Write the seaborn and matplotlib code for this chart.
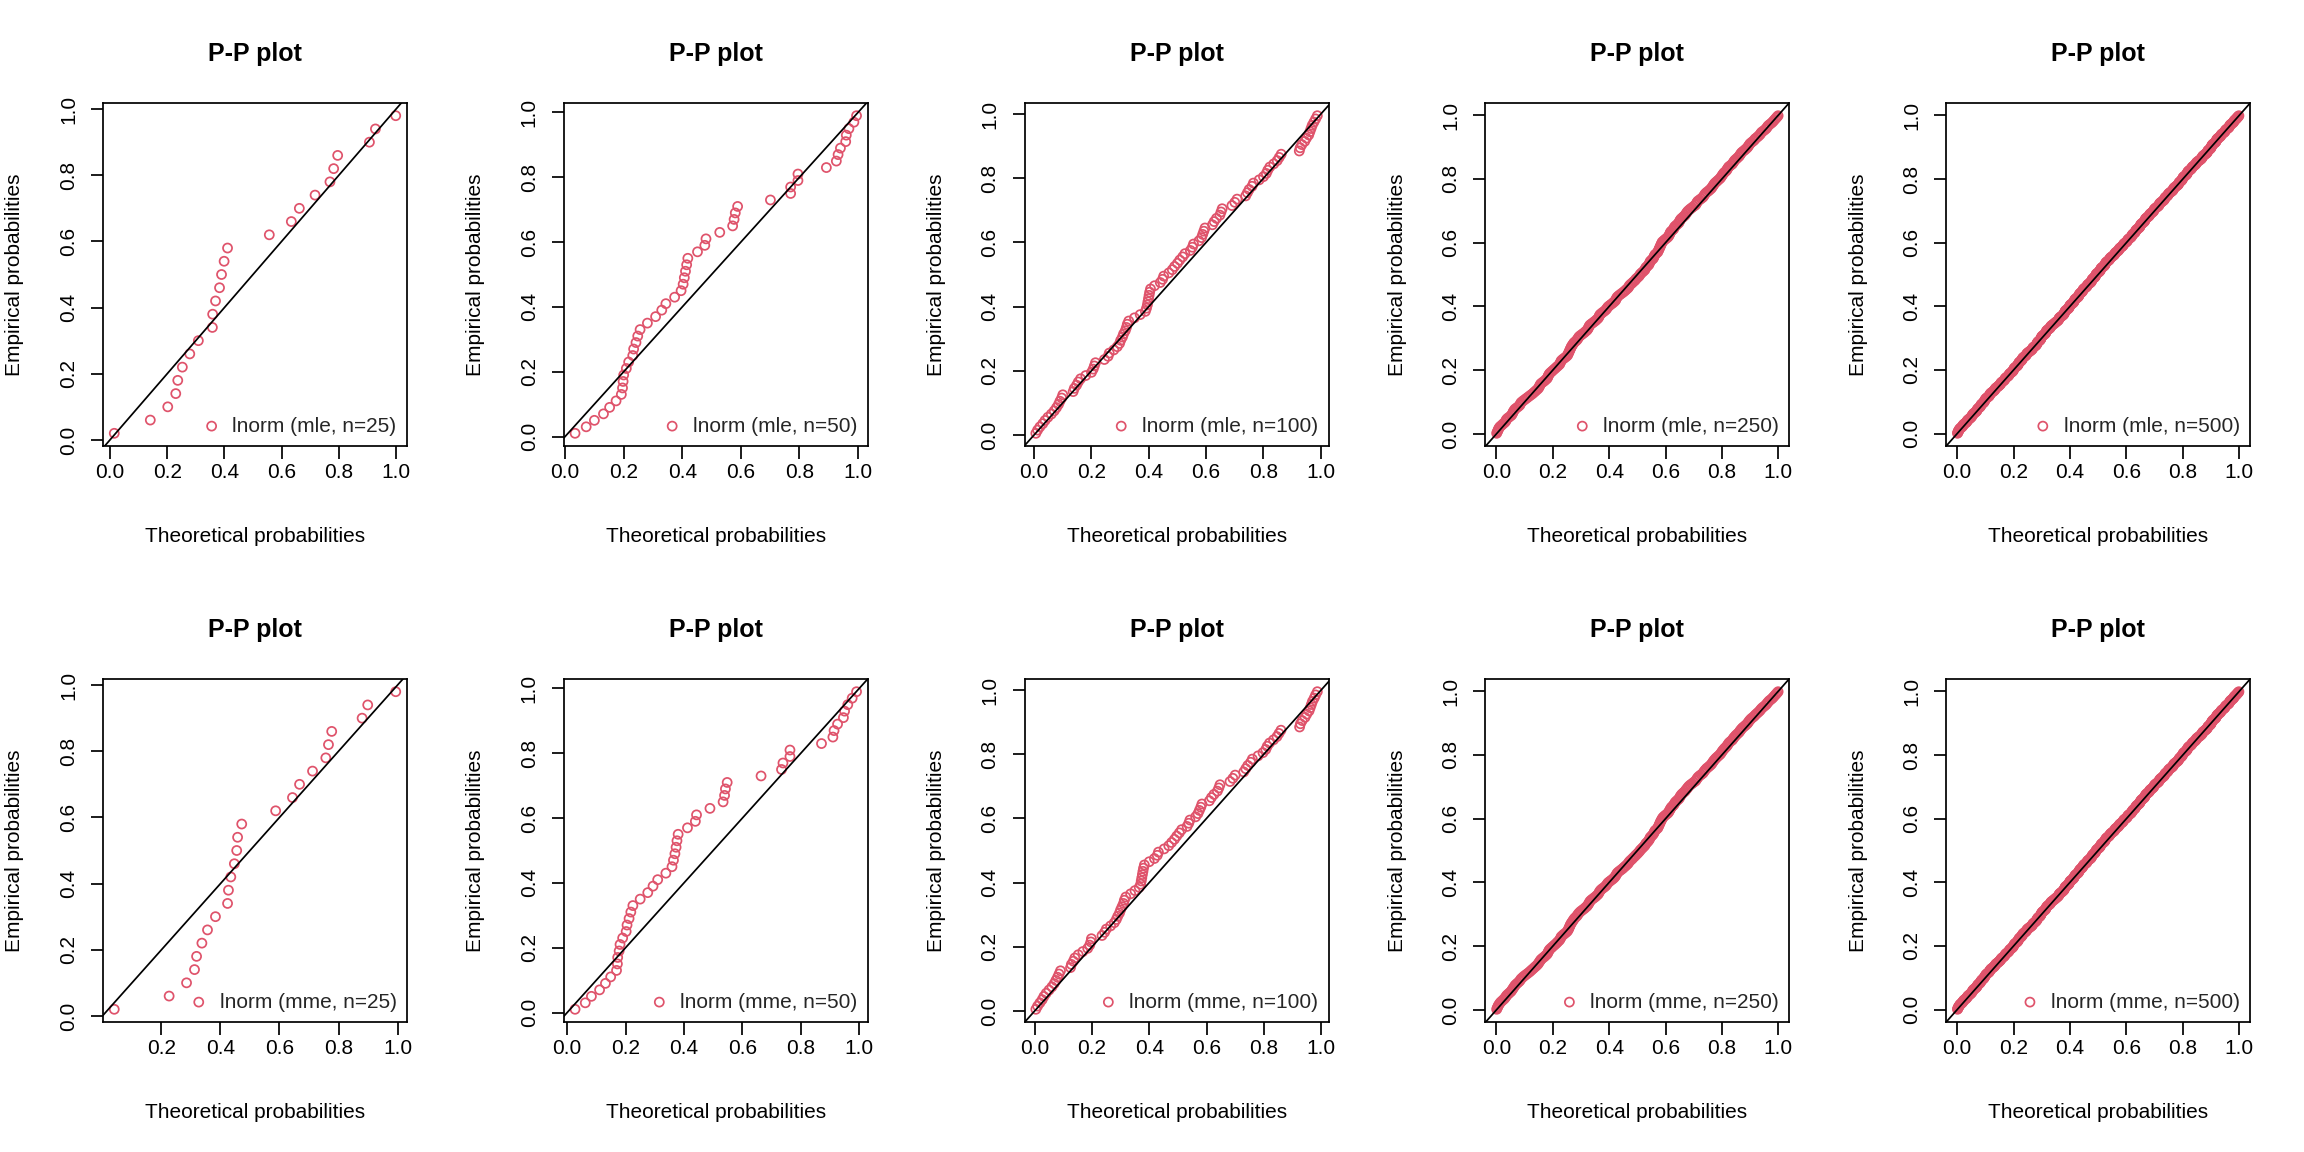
import numpy as np
import matplotlib
matplotlib.use("Agg")
import matplotlib.pyplot as plt
import seaborn as sns

# Theoretical probabilities (x); empirical probabilities are ppoints(n)
theo_mle_25 = [.015, .141, .202, .230, .237, .253, .279, .309, .358, .359, .369, .383, .390,
               .399, .411, .557, .634, .662, .717, .769, .782, .796, .907, .928, .999]
theo_mme_25 = [.040, .226, .285, .312, .319, .337, .356, .383, .424, .427, .435, .447, .455,
               .458, .472, .587, .644, .668, .712, .757, .766, .777, .880, .899, .994]

theo_mle_50 = [.034, .072, .100, .131, .152, .174, .192, .196, .198, .200,
               .209, .217, .231, .234, .242, .248, .256, .281, .309, .330,
               .344, .374, .396, .403, .407, .411, .415, .419, .452, .477,
               .481, .528, .572, .577, .581, .589, .701, .770, .770, .795,
               .795, .892, .926, .932, .940, .958, .960, .969, .986, .995]
theo_mme_50 = [.027, .062, .083, .111, .131, .149, .169, .172, .173, .178,
               .181, .190, .202, .205, .212, .218, .225, .250, .276, .294,
               .310, .338, .359, .364, .369, .373, .376, .380, .412, .439,
               .443, .489, .534, .539, .542, .548, .664, .734, .739, .763,
               .763, .871, .910, .914, .926, .946, .950, .961, .976, .991]

theo_mle_100 = [.006, .012, .020, .030, .038, .048, .060, .070, .078, .085,
                .090, .096, .100, .136, .140, .148, .154, .162, .180, .200,
                .206, .210, .214, .245, .258, .262, .278, .290, .298, .302,
                .308, .312, .318, .322, .325, .330, .350, .370, .388, .392,
                .395, .397, .399, .401, .403, .406, .420, .440, .448, .452,
                .470, .482, .490, .500, .508, .518, .526, .545, .552, .556,
                .575, .584, .588, .592, .596, .622, .628, .636, .648, .652,
                .656, .690, .700, .708, .738, .744, .750, .760, .765, .785,
                .800, .810, .815, .822, .836, .848, .855, .862, .925, .928,
                .934, .944, .950, .958, .962, .966, .970, .976, .982, .988]
theo_mme_100 = [.004, .010, .018, .026, .032, .040, .050, .060, .068, .074,
                .080, .085, .090, .125, .128, .135, .140, .152, .168, .185,
                .192, .196, .198, .235, .244, .250, .265, .278, .285, .290,
                .296, .300, .305, .310, .313, .318, .335, .350, .365, .370,
                .372, .374, .376, .378, .380, .383, .400, .418, .428, .432,
                .452, .468, .478, .488, .496, .505, .513, .532, .538, .542,
                .562, .570, .575, .580, .584, .610, .617, .626, .638, .643,
                .647, .682, .692, .700, .730, .737, .744, .754, .760, .780,
                .797, .807, .812, .820, .834, .846, .853, .860, .925, .928,
                .934, .944, .950, .958, .962, .966, .970, .976, .981, .987]

# For the dense panels: offset of each point from the diagonal (empirical - theoretical), in 1/1000
dev_mle_250 = [1, 3, 5, 7, 9, 10, 9, 8, 7, 6, 8, 10, 9, 7, 5, 6, 8, 10, 11, 12, 10, 8, 7, 9, 11,
               10, 8, 6, 4, 2, 0, -2, -3, -4, -5, -6, -5, -3, -1, 0, -2, -4, -5, -6, -4, -2, 0, 1, 0, -1,
               -2, -3, -4, -5, -6, -4, -2, 0, -1, -3, -5, -6, -4, -2, 0, 2, 4, 6, 8, 9, 10, 11, 10, 9, 10,
               11, 12, 10, 8, 6, 5, 4, 5, 7, 9, 10, 8, 6, 4, 3, 2, 3, 5, 7, 6, 4, 2, 1, 2, 3,
               2, 0, -2, -3, -4, -2, 0, 1, 0, -2, -4, -6, -7, -8, -9, -8, -6, -7, -8, -9, -10, -9, -10, -11, -10,
               -9, -10, -11, -12, -10, -8, -9, -10, -8, -6, -4, -5, -6, -4, -2, 0, -1, -2, 0, 2, 4, 6, 8, 10, 12,
               14, 13, 12, 10, 9, 10, 12, 14, 16, 15, 14, 16, 18, 17, 16, 15, 17, 19, 20, 19, 18, 17, 18, 19, 20,
               19, 18, 16, 14, 12, 13, 15, 16, 14, 12, 10, 11, 12, 13, 12, 10, 9, 8, 9, 10, 11, 12, 11, 10, 9,
               8, 9, 10, 11, 12, 11, 10, 12, 13, 14, 12, 10, 11, 12, 13, 12, 11, 10, 11, 12, 13, 12, 10, 9, 8,
               9, 10, 11, 10, 8, 7, 8, 6, 5, 4, 5, 6, 4, 2, 1, 2, 3, 2, 0, -1, -1, -1, -1, -1, -1]
dev_mme_250 = [1, 3, 5, 7, 8, 9, 9, 8, 7, 7, 8, 9, 8, 7, 6, 7, 8, 9, 10, 11, 10, 9, 8, 9, 10,
               9, 8, 6, 4, 2, 1, 0, -1, -2, -3, -4, -3, -2, -1, 0, -1, -3, -4, -5, -4, -2, 0, 1, 0, -1,
               -2, -3, -4, -4, -5, -4, -2, 0, -1, -2, -4, -5, -4, -2, 0, 2, 4, 6, 7, 8, 9, 10, 10, 9, 10,
               11, 11, 10, 8, 6, 5, 4, 5, 6, 8, 9, 8, 6, 4, 3, 2, 3, 5, 6, 6, 4, 2, 1, 2, 3,
               2, 0, -2, -3, -3, -2, 0, 1, 0, -2, -4, -5, -6, -7, -8, -7, -6, -7, -8, -8, -9, -9, -10, -10, -10,
               -9, -10, -10, -11, -10, -8, -9, -9, -8, -6, -4, -5, -5, -4, -2, 0, -1, -2, 0, 2, 4, 6, 8, 10, 11,
               13, 13, 12, 10, 9, 10, 12, 13, 15, 15, 14, 15, 17, 17, 16, 15, 16, 18, 19, 19, 18, 17, 18, 18, 19,
               19, 18, 16, 14, 12, 13, 14, 15, 14, 12, 10, 11, 12, 12, 12, 10, 9, 8, 9, 10, 11, 11, 11, 10, 9,
               8, 9, 10, 11, 11, 11, 10, 11, 12, 13, 12, 10, 11, 12, 12, 12, 11, 10, 11, 12, 12, 12, 10, 9, 8,
               9, 10, 10, 10, 8, 7, 7, 6, 5, 4, 5, 5, 4, 2, 1, 2, 2, 2, 0, -1, -1, -1, -1, -1, -1]

dev_mle_500 = [0, 1, 2, 3, 4, 5, 5, 6, 6, 5, 4, 4, 5, 6, 6, 5, 4, 3, 3, 4, 5, 5, 4, 3, 3,
               2, 2, 3, 4, 4, 5, 5, 4, 3, 2, 2, 3, 4, 5, 5, 4, 3, 3, 4, 5, 6, 6, 5, 4, 4,
               5, 6, 7, 7, 8, 8, 7, 6, 5, 5, 6, 7, 8, 8, 7, 6, 5, 4, 4, 5, 6, 6, 5, 4, 3,
               3, 2, 2, 3, 4, 4, 3, 2, 1, 1, 2, 3, 3, 2, 1, 0, 0, 1, 2, 2, 1, 0, -1, -1, 0,
               1, 2, 3, 3, 2, 1, 0, 0, 1, 2, 3, 4, 4, 3, 2, 2, 3, 4, 5, 5, 4, 3, 2, 2, 3,
               4, 4, 3, 2, 1, 0, -1, -1, 0, 1, 1, 0, -1, -2, -2, -1, 0, 1, 2, 2, 1, 0, 0, 1, 2,
               3, 4, 5, 5, 4, 3, 2, 2, 3, 4, 5, 6, 6, 5, 4, 3, 3, 4, 5, 5, 4, 3, 2, 1, 1,
               0, -1, -2, -2, -1, 0, 1, 1, 0, -1, -2, -3, -3, -2, -1, 0, 1, 2, 2, 1, 0, -1, -1, 0, 1,
               2, 3, 3, 2, 1, 0, 0, 1, 2, 3, 4, 4, 3, 2, 1, 1, 2, 3, 4, 5, 5, 4, 3, 3, 4,
               5, 6, 6, 5, 4, 3, 3, 4, 5, 5, 4, 3, 2, 2, 3, 4, 5, 6, 6, 5, 4, 4, 5, 6, 7,
               8, 8, 7, 6, 5, 5, 6, 7, 8, 9, 9, 8, 7, 6, 6, 7, 8, 9, 10, 10, 9, 8, 7, 7, 8,
               9, 9, 8, 7, 6, 5, 5, 6, 7, 7, 6, 5, 4, 4, 5, 6, 6, 5, 4, 3, 3, 4, 5, 5, 4,
               3, 2, 2, 3, 4, 4, 3, 2, 1, 1, 2, 3, 4, 4, 3, 2, 2, 3, 4, 5, 5, 4, 3, 2, 2,
               3, 4, 5, 6, 6, 5, 4, 3, 3, 4, 5, 6, 7, 7, 6, 5, 4, 4, 5, 6, 6, 5, 4, 3, 3,
               4, 5, 6, 6, 5, 4, 3, 2, 2, 3, 4, 5, 5, 4, 3, 2, 1, 1, 2, 3, 4, 4, 3, 2, 2,
               3, 4, 4, 3, 2, 1, 0, 0, 1, 2, 3, 3, 2, 1, 0, -1, -1, 0, 1, 2, 2, 1, 0, 0, 1,
               2, 3, 4, 4, 3, 2, 1, 1, 2, 3, 4, 5, 5, 4, 3, 2, 2, 3, 4, 4, 3, 2, 1, 1, 2,
               3, 3, 2, 1, 0, -1, -2, -2, -1, 0, 1, 1, 0, -1, -2, -3, -3, -2, -1, 0, 0, -1, -2, -2, -1,
               0, 1, 2, 3, 3, 2, 1, 0, 0, 1, 2, 3, 4, 4, 3, 2, 1, 1, 2, 3, 3, 2, 1, 0, 0,
               1, 2, 2, 1, 0, -1, -1, 0, 1, 2, 2, 1, 0, -1, -1, 0, 1, 1, 0, 0, 0, 0, 0, 0, 0]
dev_mme_500 = [0, 1, 2, 3, 4, 4, 5, 5, 6, 5, 4, 4, 5, 5, 6, 5, 4, 3, 3, 4, 4, 5, 4, 3, 3,
               2, 2, 3, 3, 4, 5, 5, 4, 3, 2, 2, 3, 4, 4, 5, 4, 3, 3, 4, 5, 5, 6, 5, 4, 4,
               5, 6, 6, 7, 7, 8, 7, 6, 5, 5, 6, 7, 7, 8, 7, 6, 5, 4, 4, 5, 5, 6, 5, 4, 3,
               3, 2, 2, 3, 3, 4, 3, 2, 1, 1, 2, 2, 3, 2, 1, 0, 0, 1, 1, 2, 1, 0, -1, -1, 0,
               1, 2, 2, 3, 2, 1, 0, 0, 1, 2, 3, 3, 4, 3, 2, 2, 3, 4, 4, 5, 4, 3, 2, 2, 3,
               3, 4, 3, 2, 1, 0, -1, -1, 0, 1, 1, 0, -1, -1, -2, -1, 0, 1, 2, 2, 1, 0, 0, 1, 2,
               3, 4, 4, 5, 4, 3, 2, 2, 3, 4, 5, 5, 6, 5, 4, 3, 3, 4, 5, 5, 4, 3, 2, 1, 1,
               0, -1, -1, -2, -1, 0, 1, 1, 0, -1, -2, -2, -3, -2, -1, 0, 1, 2, 2, 1, 0, -1, -1, 0, 1,
               2, 3, 3, 2, 1, 0, 0, 1, 2, 3, 3, 4, 3, 2, 1, 1, 2, 3, 4, 4, 5, 4, 3, 3, 4,
               5, 5, 6, 5, 4, 3, 3, 4, 5, 5, 4, 3, 2, 2, 3, 4, 5, 5, 6, 5, 4, 4, 5, 6, 7,
               7, 8, 7, 6, 5, 5, 6, 7, 8, 8, 9, 8, 7, 6, 6, 7, 8, 9, 9, 10, 9, 8, 7, 7, 8,
               8, 9, 8, 7, 6, 5, 5, 6, 7, 7, 6, 5, 4, 4, 5, 6, 6, 5, 4, 3, 3, 4, 5, 5, 4,
               3, 2, 2, 3, 4, 4, 3, 2, 1, 1, 2, 3, 3, 4, 3, 2, 2, 3, 4, 4, 5, 4, 3, 2, 2,
               3, 4, 5, 5, 6, 5, 4, 3, 3, 4, 5, 6, 6, 7, 6, 5, 4, 4, 5, 6, 6, 5, 4, 3, 3,
               4, 5, 5, 6, 5, 4, 3, 2, 2, 3, 4, 4, 5, 4, 3, 2, 1, 1, 2, 3, 4, 4, 3, 2, 2,
               3, 3, 4, 3, 2, 1, 0, 0, 1, 2, 3, 3, 2, 1, 0, -1, -1, 0, 1, 1, 2, 1, 0, 0, 1,
               2, 3, 3, 4, 3, 2, 1, 1, 2, 3, 4, 4, 5, 4, 3, 2, 2, 3, 3, 4, 3, 2, 1, 1, 2,
               3, 3, 2, 1, 0, -1, -1, -2, -1, 0, 1, 1, 0, -1, -2, -2, -3, -2, -1, 0, 0, -1, -2, -2, -1,
               0, 1, 2, 2, 3, 2, 1, 0, 0, 1, 2, 3, 3, 4, 3, 2, 1, 1, 2, 3, 3, 2, 1, 0, 0,
               1, 2, 2, 1, 0, -1, -1, 0, 1, 1, 2, 1, 0, -1, -1, 0, 1, 1, 0, 0, 0, 0, 0, 0, 0]

sample_sizes = [25, 50, 100, 250, 500]
methods = ["mle", "mme"]
tick_vals = [0.0, 0.2, 0.4, 0.6, 0.8, 1.0]
tick_labels = ["0.0", "0.2", "0.4", "0.6", "0.8", "1.0"]


def ppoints(n):
    return (np.arange(1, n + 1) - 0.5) / n


def from_dev(dev):
    emp = ppoints(len(dev))
    return emp - np.array(dev) / 1000.0


theo = {
    ("mle", 25): np.array(theo_mle_25), ("mme", 25): np.array(theo_mme_25),
    ("mle", 50): np.array(theo_mle_50), ("mme", 50): np.array(theo_mme_50),
    ("mle", 100): np.array(theo_mle_100), ("mme", 100): np.array(theo_mme_100),
    ("mle", 250): from_dev(dev_mle_250), ("mme", 250): from_dev(dev_mme_250),
    ("mle", 500): from_dev(dev_mle_500), ("mme", 500): from_dev(dev_mme_500),
}

sns.set_theme(style="white")
plt.rcParams['font.family'] = ['Liberation Sans', 'DejaVu Sans']

DPI = 125
W, H = 2304, 1152
fig = plt.figure(figsize=(W / DPI, H / DPI), dpi=DPI)
fig.patch.set_facecolor("white")

red = "#DF536B"
box_w, box_h = 304, 343

for r, meth in enumerate(methods):
    for c, n in enumerate(sample_sizes):
        x = theo[(meth, n)]
        y = ppoints(len(x))
        left = (c * W / 5 + 103) / W
        bottom = 1 - (r * H / 2 + 446) / H
        ax = fig.add_axes([left, bottom, box_w / W, box_h / H])

        sns.scatterplot(x=x, y=y, ax=ax, marker="o", s=27, color=red,
                        facecolor="none", edgecolor=red, linewidth=1.0,
                        label=f"lnorm ({meth}, n={n})", legend=False, zorder=2)
        ax.axline((0, 0), (1, 1), color="black", lw=1.0, zorder=3)

        # ticks first, limits afterwards (set_ticks would widen the view)
        ax.set_xticks(tick_vals)
        ax.set_xticklabels(tick_labels)
        ax.set_yticks(tick_vals)
        ax.set_yticklabels(tick_labels, rotation=90, va="center")

        rx = x.max() - x.min()
        ry = y.max() - y.min()
        ax.set_xlim(x.min() - 0.04 * rx, x.max() + 0.04 * rx)
        ax.set_ylim(y.min() - 0.04 * ry, y.max() + 0.04 * ry)

        ax.tick_params(axis="both", which="major", bottom=True, left=True,
                       direction="out", length=7.2, width=1.0, color="black",
                       labelsize=12, labelcolor="black")
        ax.tick_params(axis="x", pad=2.6)
        ax.tick_params(axis="y", pad=7.2)

        for sp in ax.spines.values():
            sp.set_visible(True)
            sp.set_color("black")
            sp.set_linewidth(1.0)

        ax.set_xlabel("Theoretical probabilities", fontsize=12, color="black")
        ax.set_ylabel("Empirical probabilities", fontsize=12, color="black")
        ax.xaxis.set_label_coords(0.5, -90 / box_h)
        ax.yaxis.set_label_coords(-88 / box_w, 0.5)
        ax.xaxis.label.set_va("center")
        ax.yaxis.label.set_va("center")

        ax.set_title("P-P plot", fontsize=14.4, fontweight="bold", color="black",
                     y=1 + 49 / box_h, va="center", pad=0)

        ax.legend(loc="lower right", frameon=False, fontsize=12, borderaxespad=0,
                  borderpad=0.5, handlelength=0.8, handletextpad=0.6, scatterpoints=1)
        ax.grid(False)

fig.savefig("out.png", dpi=DPI, facecolor="white")
